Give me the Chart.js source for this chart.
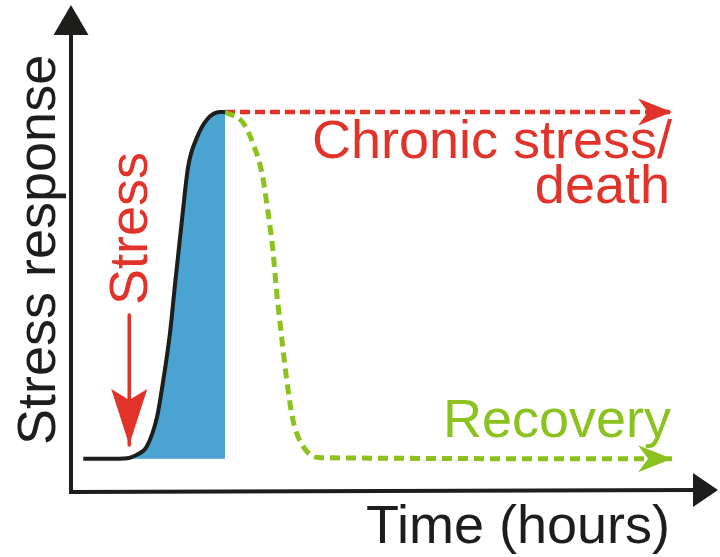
<!DOCTYPE html>
<html>
<head>
<meta charset="utf-8">
<script src="https://cdn.jsdelivr.net/npm/chart.js@4/dist/chart.umd.min.js"></script>
<style>
  html, body { margin: 0; padding: 0; background: #fff; }
  #wrap { width: 720px; height: 557px; }
</style>
</head>
<body>
<div id="wrap"><canvas id="stressChart"></canvas></div>
<script>
// Values. x = time (arbitrary units), y = response (baseline 0, peak 100)
const responseX = [1.9, 6.8, 9.1, 10.2, 11.7, 13.3, 14.2, 15.3, 16.1, 17.2, 18.1, 19.5, 21.0, 23.0, 23.8];
const responseY = [0, 0, 0.3, 1.2, 3.5, 12.1, 21.9, 36.3, 50.7, 69.8, 84.2, 92.8, 97.8, 100, 100];
const recoveryX = [23.8, 26.6, 28.1, 29.5, 30.4, 31.2, 31.8, 32.6, 33.4, 34.3, 35.9, 38.5, 92.9];
const recoveryY = [100, 96.9, 91.1, 82.5, 71.8, 60.3, 47.9, 34.3, 21.9, 11.2, 3.5, 0.3, 0];
const chronicX = [23.8, 92.9];
const chronicY = [100, 100];
const stressX = [9.0, 9.0];
const stressY = [41.5, 4.0];

const RED = '#e2332a';
const GREEN = '#8cc21e';
const BLUE = '#4ba3d2';
const INK = '#1d1d1b';
const FONT = '54px "Liberation Sans", Arial, sans-serif';

const toPoints = (xs, ys) => xs.map((x, i) => ({ x, y: ys[i] }));

function arrowHead(ctx, tipX, tipY, angle, len, halfW, notch, color) {
    ctx.save();
    ctx.translate(tipX, tipY);
    ctx.rotate(angle);
    ctx.beginPath();
    ctx.moveTo(0, 0);
    ctx.lineTo(-len, -halfW);
    ctx.lineTo(-len + notch, 0);
    ctx.lineTo(-len, halfW);
    ctx.closePath();
    ctx.fillStyle = color;
    ctx.fill();
    ctx.restore();
}

// axes with arrows, arrowheads on the curves, and all the labels
const decorPlugin = {
    id: 'decor',
    afterDatasetsDraw(chart) {
        const { ctx, chartArea: a, scales } = chart;
        const xs = scales.x, ys = scales.y;

        ctx.save();
        ctx.strokeStyle = INK;
        ctx.lineWidth = 4;
        ctx.beginPath();
        ctx.moveTo(a.left, a.top + 28);
        ctx.lineTo(a.left, a.bottom + 2);
        ctx.lineTo(a.right - 22, a.bottom);
        ctx.stroke();
        ctx.restore();
        arrowHead(ctx, a.left, a.top, -Math.PI / 2, 30, 17.5, 0, INK);
        arrowHead(ctx, a.right, a.bottom, 0, 25, 17, 0, INK);

        const lastOf = (xArr, yArr) => [xs.getPixelForValue(xArr[xArr.length - 1]), ys.getPixelForValue(yArr[yArr.length - 1])];
        const [cx, cy] = lastOf(chronicX, chronicY);
        arrowHead(ctx, cx, cy, 0, 34, 13.5, 10, RED);
        const [rx, ry] = lastOf(recoveryX, recoveryY);
        arrowHead(ctx, rx, ry, 0, 34, 13.5, 10, GREEN);
        const [sx, sy] = lastOf(stressX, stressY);
        arrowHead(ctx, sx, sy, Math.PI / 2, 56, 18, 11, RED);

        ctx.save();
        ctx.font = FONT;
        ctx.textBaseline = 'alphabetic';

        ctx.fillStyle = INK;
        ctx.textAlign = 'right';
        ctx.fillText('Time (hours)', 670, 543);

        ctx.fillStyle = RED;
        ctx.fillText('Chronic stress/', 672, 158);
        ctx.fillText('death', 670, 203);

        ctx.fillStyle = GREEN;
        ctx.fillText('Recovery', 671, 437);

        ctx.textAlign = 'left';
        ctx.save();
        ctx.translate(55, 445);
        ctx.rotate(-Math.PI / 2);
        ctx.fillStyle = INK;
        ctx.fillText('Stress response', 0, 0);
        ctx.restore();

        ctx.save();
        ctx.translate(147, 305);
        ctx.rotate(-Math.PI / 2);
        ctx.fillStyle = RED;
        ctx.fillText('Stress', 0, 0);
        ctx.restore();

        ctx.restore();
    }
};

new Chart(document.getElementById('stressChart').getContext('2d'), {
    type: 'line',
    data: {
        datasets: [
            {
                label: 'Response',
                data: toPoints(responseX, responseY),
                borderColor: INK,
                borderWidth: 4,
                backgroundColor: BLUE,
                fill: { value: 0 },
                cubicInterpolationMode: 'monotone',
                pointRadius: 0,
                order: 1
            },
            {
                label: 'Recovery',
                data: toPoints(recoveryX, recoveryY),
                borderColor: GREEN,
                borderWidth: 5,
                borderDash: [10, 6],
                fill: false,
                cubicInterpolationMode: 'monotone',
                pointRadius: 0,
                order: 2
            },
            {
                label: 'Chronic stress/death',
                data: toPoints(chronicX, chronicY),
                borderColor: RED,
                borderWidth: 4.5,
                borderDash: [10, 5],
                fill: false,
                pointRadius: 0,
                order: 3
            },
            {
                label: 'Stress',
                data: toPoints(stressX, stressY),
                borderColor: RED,
                borderWidth: 3.5,
                fill: false,
                pointRadius: 0,
                order: 4
            }
        ]
    },
    options: {
        responsive: true,
        maintainAspectRatio: false,
        animation: false,
        layout: { padding: { left: 71, right: 2, top: 5, bottom: 67 } },
        scales: {
            x: { type: 'linear', min: 0, max: 100, display: false },
            y: { type: 'linear', min: -9, max: 130.9, display: false }
        },
        plugins: {
            legend: { display: false },
            tooltip: { enabled: false }
        },
        elements: { line: { borderCapStyle: 'butt', borderJoinStyle: 'round' } },
        clip: false
    },
    plugins: [decorPlugin]
});
</script>
</body>
</html>
